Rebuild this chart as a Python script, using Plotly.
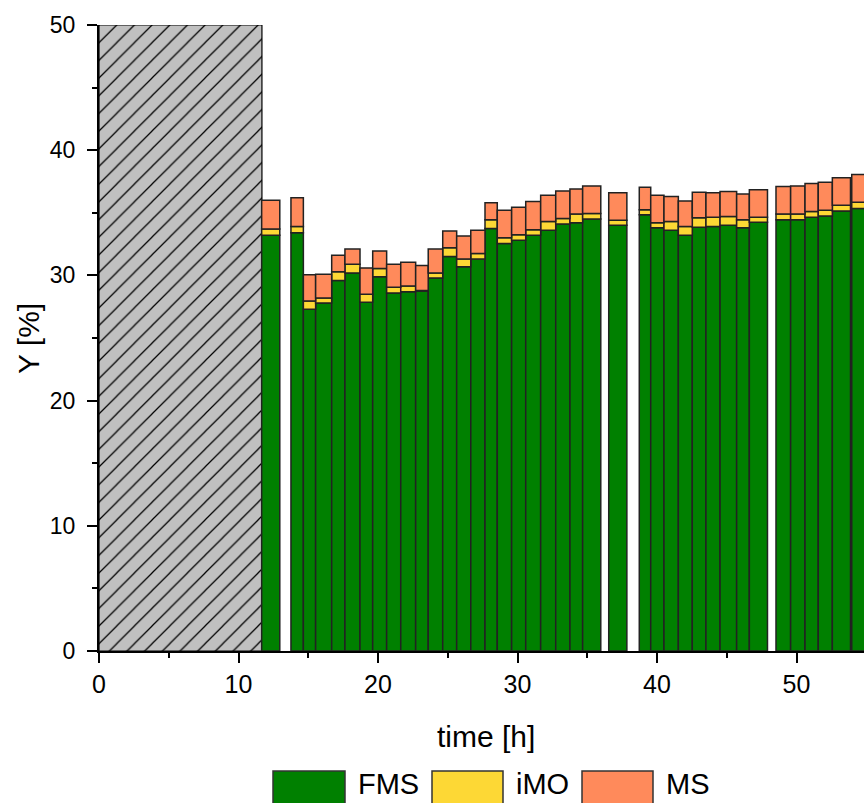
import plotly.graph_objects as go

# ---------------- data ----------------
times = [12.31, 14.41, 15.30, 16.18, 17.33, 18.28, 19.36, 20.27, 21.27, 22.28,
         23.35, 24.25, 25.29, 26.29, 27.30, 28.32, 29.20, 30.23, 31.24, 32.31,
         33.39, 34.41, 35.32, 37.19, 39.38, 40.20, 41.15, 42.18, 43.18, 44.16,
         45.17, 46.36, 47.27, 49.18, 50.23, 51.26, 52.21, 53.22, 54.61]
fms = [33.2, 33.4, 27.3, 27.8, 29.6, 30.2, 27.85, 29.9, 28.6, 28.7,
       28.75, 29.8, 31.5, 30.7, 31.3, 33.75, 32.55, 32.8, 33.2, 33.6,
       34.1, 34.2, 34.5, 34.0, 34.85, 33.8, 33.6, 33.2, 33.85, 33.9,
       34.0, 33.8, 34.25, 34.45, 34.45, 34.65, 34.75, 35.15, 35.35]
imo = [0.5, 0.5, 0.65, 0.4, 0.7, 0.7, 0.65, 0.65, 0.45, 0.45,
       0.05, 0.4, 0.7, 0.6, 0.45, 0.7, 0.45, 0.45, 0.45, 0.7,
       0.45, 0.7, 0.45, 0.4, 0.4, 0.4, 0.7, 0.7, 0.75, 0.75,
       0.7, 0.65, 0.4, 0.45, 0.45, 0.45, 0.45, 0.45, 0.5]
ms = [2.3, 2.3, 2.1, 1.9, 1.3, 1.2, 2.1, 1.4, 1.85, 1.9,
      2.0, 1.9, 1.35, 1.85, 1.85, 1.35, 2.2, 2.2, 2.25, 2.1,
      2.2, 2.0, 2.2, 2.2, 1.8, 2.2, 2.0, 2.05, 2.05, 1.95,
      2.0, 2.05, 2.2, 2.2, 2.25, 2.25, 2.25, 2.2, 2.2]
series_names = ["FMS", "iMO", "MS"]
startup_end = 11.68      # end of hatched start-up phase [h]
y_max = 50
x_ticks = [0, 10, 20, 30, 40, 50]
y_ticks = [0, 10, 20, 30, 40, 50]

# ---------------- styling ----------------
colors = ["#008000", "#FDD835", "#FF8A5B"]
W, H = 864, 803
L, R, T, B = 99, 0, 25, 152
px_per_h = 13.95
x_max = (W - L - R) / px_per_h
bar_w = 1.3
FONT = "Liberation Sans, Arial, sans-serif"

# visible widths: later bars overlap earlier ones
left = [t - bar_w / 2 for t in times]
widths = []
for i in range(len(times)):
    if i + 1 < len(times):
        widths.append(min(bar_w, left[i + 1] - left[i]))
    else:
        widths.append(bar_w)

base_imo = fms
base_ms = [a + b for a, b in zip(fms, imo)]

fig = go.Figure()

# hatched start-up region
fig.add_trace(go.Bar(
    x=[0], y=[y_max], base=[0], width=[startup_end], offset=0,
    marker=dict(color="#C0C0C0", line=dict(color="black", width=1.2),
                pattern=dict(shape="/", fgcolor="black", bgcolor="#C0C0C0",
                             size=12.5, solidity=0.1, fillmode="replace")),
    showlegend=False, hoverinfo="skip"))

for name, vals, base, col in zip(series_names, [fms, imo, ms],
                                 [[0] * len(fms), base_imo, base_ms], colors):
    fig.add_trace(go.Bar(
        x=left, y=vals, base=base, width=widths, offset=0, name=name,
        marker=dict(color=col, line=dict(color="#222222", width=1.5)),
        showlegend=False))

fig.update_layout(
    width=W, height=H, barmode="overlay",
    margin=dict(l=L, r=R, t=T, b=B, pad=0),
    plot_bgcolor="white", paper_bgcolor="white",
    font=dict(family=FONT, color="black", size=24),
    showlegend=False,
)
axis_common = dict(showgrid=False, zeroline=False, showline=True, linecolor="black",
                   linewidth=2, ticks="outside", ticklen=10, tickwidth=2, tickcolor="black")
fig.update_xaxes(range=[0, x_max], tickvals=x_ticks,
                 tickfont=dict(family=FONT, size=25, color="black"),
                 minor=dict(dtick=5, ticks="outside", ticklen=5, tickwidth=2, tickcolor="black"),
                 **axis_common)
fig.update_yaxes(range=[0, y_max], tickvals=y_ticks, ticklabelstandoff=7,
                 tickfont=dict(family=FONT, size=23, color="black"),
                 minor=dict(dtick=5, ticks="outside", ticklen=5, tickwidth=2, tickcolor="black"),
                 **axis_common)

pw, ph = W - L - R, H - T - B
def fx(p):
    return (p - L) / pw
def fy(p):
    return (H - B - p) / ph

# axis titles
fig.add_annotation(text="time [h]", x=fx(485.5), y=fy(736), xref="paper", yref="paper",
                   showarrow=False, xanchor="center", yanchor="middle",
                   font=dict(family=FONT, size=30, color="black"))
fig.add_annotation(text="Y [%]", x=fx(28), y=fy(339), xref="paper", yref="paper",
                   showarrow=False, xanchor="center", yanchor="middle", textangle=-90,
                   font=dict(family=FONT, size=30, color="black"))

# manual legend
leg_boxes = [(273, 345), (432, 503), (582, 653)]
for (x0, x1), name, col in zip(leg_boxes, series_names, colors):
    fig.add_shape(type="rect", xref="paper", yref="paper",
                  x0=fx(x0), x1=fx(x1), y0=fy(771), y1=fy(815),
                  fillcolor=col, line=dict(color="#333333", width=1.5))
    fig.add_annotation(text=name, x=fx(x1 + 11), y=fy(784), xref="paper", yref="paper",
                       showarrow=False, xanchor="left", yanchor="middle",
                       font=dict(family=FONT, size=29, color="black"))

fig.write_html("out.html", include_plotlyjs=True, config={"displayModeBar": False},
               post_script="document.body.style.margin='0';document.body.style.overflow='hidden';")
